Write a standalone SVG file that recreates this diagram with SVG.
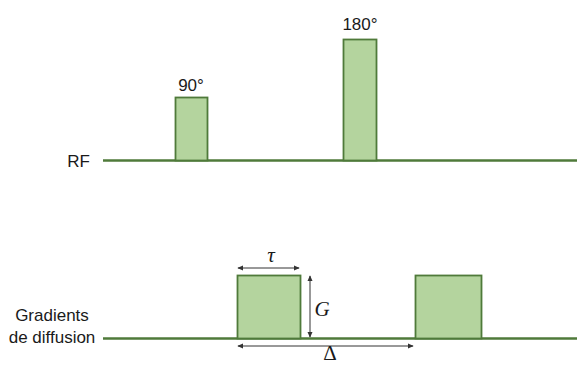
<svg xmlns="http://www.w3.org/2000/svg" width="577" height="365" viewBox="0 0 577 365">
<style>
.lbl{font-family:"Liberation Sans",Arial,sans-serif;font-size:17px;fill:#1a1a1a}
.math{font-family:"Liberation Serif","Times New Roman",serif;font-size:21px;fill:#1a1a1a}
.pulse{fill:#b4d49e;stroke:#4f7a3a;stroke-width:1.8}
.base{stroke:#4f7a3a;stroke-width:2.6;fill:none}
.dim{stroke:#333;stroke-width:1;fill:none;marker-start:url(#ah);marker-end:url(#ah)}
</style>
<defs>
<marker id="ah" viewBox="0 0 8 8" refX="7" refY="4" markerWidth="6" markerHeight="6" orient="auto-start-reverse" markerUnits="userSpaceOnUse">
<path d="M0,0.5 L8,4 L0,7.5 z" fill="#333"/>
</marker>
</defs>
<g id="connectors">
<line class="base" x1="103" y1="160.5" x2="577" y2="160.5"/>
<line class="base" x1="103" y1="338.5" x2="577" y2="338.5"/>
<line class="dim" x1="238" y1="268" x2="299" y2="268"/>
<line class="dim" x1="310" y1="276" x2="310" y2="337"/>
<line class="dim" x1="238" y1="346" x2="413" y2="346"/>
</g>
<g id="rf-label"><text class="lbl" x="90" y="167" text-anchor="end">RF</text></g>
<g id="grad-label">
<text class="lbl" x="52" y="321" text-anchor="middle">Gradients</text>
<text class="lbl" x="52" y="343" text-anchor="middle">de diffusion</text>
</g>
<g id="pulse90">
<rect class="pulse" x="175.5" y="97.5" width="32" height="63"/>
<text class="lbl" x="191" y="91" text-anchor="middle">90°</text>
</g>
<g id="pulse180">
<rect class="pulse" x="343.5" y="39.5" width="33" height="121"/>
<text class="lbl" x="360" y="30" text-anchor="middle">180°</text>
</g>
<g id="grad1">
<rect class="pulse" x="237.5" y="275.5" width="63" height="63"/>
</g>
<g id="grad2">
<rect class="pulse" x="415.5" y="275.5" width="66" height="63"/>
</g>
<g id="tau"><text class="math" x="271" y="262" text-anchor="middle" font-style="italic">τ</text></g>
<g id="G"><text class="math" x="322" y="316" text-anchor="middle" font-style="italic">G</text></g>
<g id="Delta"><text class="math" x="330" y="360" text-anchor="middle" font-size="19">Δ</text></g>
</svg>
